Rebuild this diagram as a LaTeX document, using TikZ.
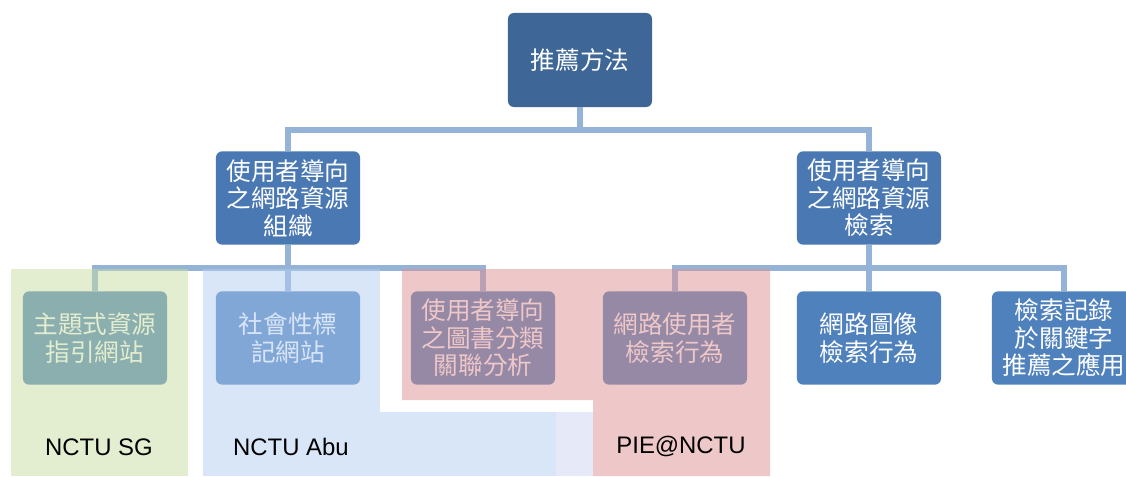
\documentclass[tikz,border=0pt]{standalone}
\usepackage{fontspec}
\newfontfamily\cjk{Noto Sans CJK TC}
\newfontfamily\lab{Liberation Sans}
\definecolor{rootblue}{RGB}{62,102,150}
\definecolor{midblue}{RGB}{74,120,178}
\definecolor{leafblue}{RGB}{79,129,189}
\definecolor{linkblue}{RGB}{149,179,215}
\definecolor{shadegreen}{RGB}{200,220,160}
\definecolor{shadeblue}{RGB}{180,205,240}
\definecolor{shadelav}{RGB}{205,212,240}
\definecolor{shadered}{RGB}{222,145,145}
\begin{document}
\begin{tikzpicture}[x=0.025cm, y=-0.025cm,
    box/.style={rounded corners=0.15cm, text=white, align=center,
        minimum width=3.6cm, minimum height=2.33cm, inner sep=0pt,
        font=\cjk\fontsize{17.5}{19.5}\selectfont},
    conn/.style={linkblue, line width=3.6pt},
    shade/.style={fill opacity=0.5, draw=none},
    tag/.style={font=\lab\fontsize{17}{20}\selectfont, text=black}]
    \clip (0,0) rectangle (1126,476);
    % boxes
    \node[box, fill=rootblue, minimum height=2.35cm] (root) at (580,60) {推薦方法};
    \node[box, fill=midblue] (org) at (288,198) {使用者導向\\之網路資源\\組織};
    \node[box, fill=midblue] (ret) at (869,198) {使用者導向\\之網路資源\\檢索};
    \node[box, fill=leafblue] (topic) at (95,338) {主題式資源\\指引網站};
    \node[box, fill=leafblue] (social) at (288,338) {社會性標\\記網站};
    \node[box, fill=leafblue] (lib) at (483,338) {使用者導向\\之圖書分類\\關聯分析};
    \node[box, fill=leafblue] (web) at (675,338) {網路使用者\\檢索行為};
    \node[box, fill=leafblue] (img) at (869,338) {網路圖像\\檢索行為};
    \node[box, fill=leafblue] (kw) at (1064,338) {檢索記錄\\於關鍵字\\推薦之應用};
    % connectors
    \coordinate (bus) at (0,130);
    \coordinate (busl) at (0,268);
    \draw[conn] (root.south) -- (root.south |- bus) -| (org.north);
    \draw[conn] (root.south |- bus) -| (ret.north);
    \draw[conn] (org.south) -- (org.south |- busl) -| (topic.north);
    \draw[conn] (org.south |- busl) -| (social.north);
    \draw[conn] (org.south |- busl) -| (lib.north);
    \draw[conn] (ret.south) -- (ret.south |- busl) -| (web.north);
    \draw[conn] (ret.south |- busl) -| (img.north);
    \draw[conn] (ret.south |- busl) -| (kw.north);
    % shaded panels
    \fill[shade, shadegreen] (11,269) rectangle (188,476);
    \fill[shade, shadeblue] (203,269) rectangle (380,476);
    \fill[shade, shadeblue] (380,412) rectangle (556,476);
    \fill[shade, shadelav] (556,412) rectangle (593,476);
    \fill[shade, shadered] (402,269) -- (770,269) -- (770,476) -- (593,476)
        -- (593,400) -- (402,400) -- cycle;
    % labels
    \node[tag] (sg) at (99,447) {NCTU SG};
    \node[tag] (abu) at (291,447) {NCTU Abu};
    \node[tag] (pie) at (681,446) {PIE@NCTU};
\end{tikzpicture}
\end{document}
